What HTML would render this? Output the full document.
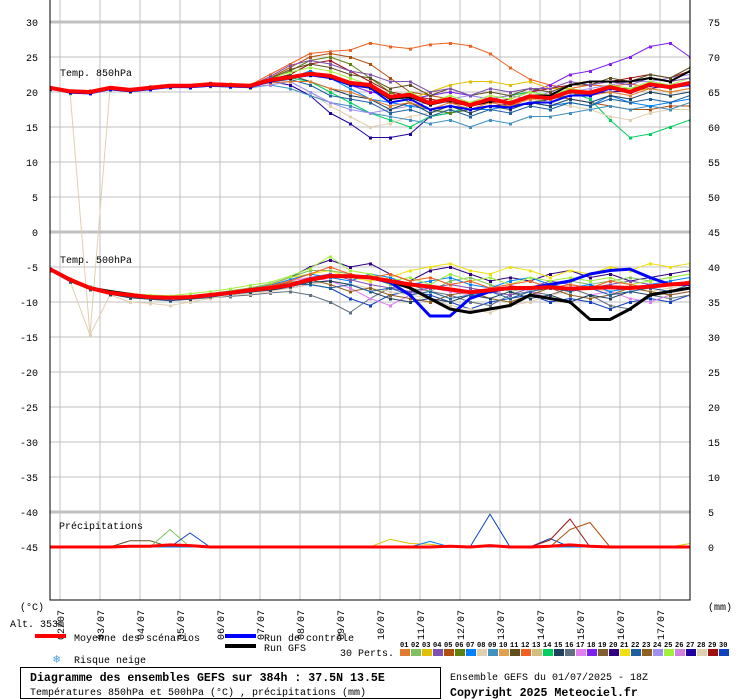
<!DOCTYPE html>
<html><head><meta charset="utf-8"><style>
body{margin:0;background:#fff;}
svg{display:block;font-family:"Liberation Mono",monospace;}
</style></head><body>
<svg id="c" width="740" height="700" xmlns="http://www.w3.org/2000/svg"></svg>
<script>
const dates=["02/07","03/07","04/07","05/07","06/07","07/07","08/07","09/07","10/07","11/07","12/07","13/07","14/07","15/07","16/07","17/07"];
const leftTicks=[30,25,20,15,10,5,0,-5,-10,-15,-20,-25,-30,-35,-40,-45];
const rightTicks=[75,70,65,60,55,50,45,40,35,30,25,20,15,10,5,0];
const memberColors=["#e07b30","#80c060","#e0c000","#8050b0","#b05010","#608010","#0080ff","#e0d0b0","#4090c0","#e0a050","#605020","#f06020","#d0c080","#00d060","#204060","#607080","#e080f0","#8020f0","#806030","#300080","#f0e010","#2060a0","#906020","#a090f0","#a0f040","#d080e0","#2000a0","#e0d0b0","#a01010","#1040c0"];
const mean850=[20.6,20.1,20,20.6,20.3,20.6,20.9,20.9,21.1,21,20.9,21.7,22.1,22.6,22.3,21.3,21,19.3,19.6,18.4,19,18.1,19,18.4,19.4,19.1,20.1,19.9,20.7,20,21.1,20.7,21.3];
const ctrl850=[20.5,19.9,19.8,20.4,20.1,20.4,20.7,20.7,20.9,20.8,20.7,21.5,22,22.4,22,21,20.6,18.5,19,17.5,18,17.5,18,17.8,18.5,18.5,19.5,19.5,20.5,20,21,20.7,21];
const gfs850=[20.6,20.1,20.1,20.6,20.3,20.6,20.9,20.9,21.1,21,20.9,21.7,22,22.5,22.2,21.2,20.8,19,19.3,18.2,18.8,18,18.7,18.5,19.5,19.5,21,21.5,21.5,21.5,22,21.5,23];
const m850a=[20.5,20,20.2,20.6,20.3,20.7,21,21,21.3,21.2,21,22.5,24,25.5,25.8,26,27,26.5,26.2,26.8,27,26.6,25.5,23.5,21.8,21,20.5,21,20.8,21.2,20.5,20.8,21];
const m850b=[20.5,20,20,20.5,20.2,20.4,20.8,20.7,21,20.9,20.8,21.5,21,19.5,17,15.5,13.5,13.5,14,16.5,17,17.5,18,18.3,18.2,19,19.5,19.8,20,20.2,20.5,21,21.2];
const m850c=[20.6,20.1,20,20.6,20.3,20.6,20.9,20.8,21.1,21,20.8,21.5,22,22.5,22,21,20,19.5,19,19.5,20,19.5,19,19.5,20,21,22.5,23,24,25,26.5,27,25];
const m850d=[20.5,20.2,20.1,20.5,20.2,20.5,20.8,20.9,21,21,20.7,21.5,22,21.5,20,18.5,17,16,15,16.5,17,18,19,19.5,20,19.5,20,19,16,13.5,14,15,16];
const m850e=[20.6,20.1,-14.7,20.5,20.4,20.6,20.9,20.8,21,20.9,20.7,21,21.5,20,18,16.5,15,15.5,16.5,17,17.5,18,18.5,18.5,19,18.5,18,17.5,16.5,16,17,17.5,17.5];
const m850f=[20.6,20,20.2,20.6,20.3,20.6,20.9,21,21.2,21,20.9,22,23.5,25,25.5,25,24,22,20,19.5,19,18.5,19,19.5,19,19.5,19,18.5,18,17.5,17.5,18,18];
const m850g=[20.5,20,20.1,20.5,20.3,20.6,20.9,20.8,21,21,20.8,21.5,22,22.5,22.5,21.5,20.5,19.5,19,20,21,21.5,21.5,21,21.5,20.5,20.5,20,20.5,20,20.5,20,20.5];
const m850h=[20.4,20,19.9,20.3,20.1,20.4,20.7,20.6,20.8,20.7,20.6,21,20.5,19.5,18.5,18,17,16.5,16,15.5,16,15,16,15.5,16.5,16.5,17,17.5,18,17.5,18,17.5,18.5];
const m850i=[20.6,20.1,20.1,20.6,20.3,20.6,21,21,21.3,21.1,21,21.8,22.5,24,24.5,23,21.5,20,19.5,19,18.5,18,18.5,19,20,20.5,21,21.5,21.5,22,22.5,22,23];
const m850j=[20.5,20,20.1,20.4,20.2,20.5,20.8,20.7,21,20.9,20.7,21,21.5,20,18.5,17.5,17,17.5,18,18.5,19,19.5,19,19.5,19,20,20,20.5,21,21.5,21.5,22,22.5];
const m850k=[20.5,20.1,20,20.5,20.3,20.5,20.8,20.8,21,20.9,20.8,21.5,22,23,22,20.5,19,18.5,18,17.5,17,17.5,17.5,18,18.5,18,18.5,18,19.5,18.5,18,18.5,19];
const m850l=[20.6,20.1,20.1,20.6,20.3,20.6,20.9,20.9,21.1,21,20.9,21.8,23,24.5,25,24,22,20,18.5,17.5,17,17.5,18,18,18.5,19,19.5,20,20.5,20.5,21,20.5,21];
const m850m=[20.5,19.8,20,20.4,20,20.6,20.6,21,20.8,21.2,20.6,22,22.8,23.5,23,22,21,19,20,18.5,19.5,18.5,19.5,19,20,19.5,20.5,20,21,20.5,21.5,21,22];
const m850n=[20.7,20,20.2,20.7,20.2,20.8,21,20.9,21.2,21.1,20.8,21.6,22.4,21.5,20.5,19.5,19,17.5,18.5,17,18,17,18,17.5,18.5,18,19,18.5,19.5,19,20,19.5,20];
const m850o=[20.4,20.1,19.9,20.5,20.3,20.5,20.8,20.8,20.9,21,20.7,21.9,23.2,24,23.5,22.5,22,20.5,21,19.5,20.5,19.5,20,19.5,20.5,20,21,21,22,21.5,22.5,22,23.5];
const m850p=[20.6,20.2,20.1,20.6,20.4,20.6,20.9,21,21,20.9,20.8,21.4,21.8,21,19.5,19,18.5,17,17.5,16.5,17.5,16.5,17.5,17,18,17.5,18.5,18,19,18.5,19,18.5,19.5];
const m850q=[20.5,20,20,20.6,20.2,20.6,21,20.8,21.1,21.1,20.9,22.2,23.8,24.5,24,23,22.5,21.5,21.5,20,20.5,19.5,20.5,20,20.5,20.5,21.5,21,21.5,21,22,21.5,22];
const m850r=[20.5,20.1,20.1,20.5,20.3,20.7,20.8,20.9,21.1,21,20.8,21.3,21.5,21.5,20.5,20,19,18,18.5,17.5,18.5,17.5,18.5,18,19,19,20,19.5,20,19.5,20.5,20,20.5];
const mean500=[-5.3,-6.8,-8,-8.7,-9,-9.3,-9.4,-9.3,-9,-8.7,-8.3,-8,-7.6,-6.8,-6.3,-6.3,-6.5,-7,-7.5,-7.8,-8.2,-8.6,-8.3,-8,-8,-7.9,-8.1,-8,-7.9,-8,-7.8,-7.5,-7.3];
const ctrl500=[-5.3,-6.8,-8,-8.7,-9,-9.3,-9.4,-9.3,-9,-8.7,-8.3,-8,-7.6,-6.8,-6.3,-6.3,-6.5,-7.2,-9,-12,-12,-9.5,-8.5,-8,-8,-7.5,-7,-6,-5.5,-5.3,-6.5,-7.5,-7.5];
const gfs500=[-5.3,-6.8,-8,-8.5,-8.9,-9.3,-9.4,-9.3,-9,-8.7,-8.3,-8,-7.6,-6.8,-6.3,-6.3,-6.5,-7,-8,-9.5,-11,-11.5,-11,-10.5,-9,-9.5,-10,-12.5,-12.5,-11,-9,-8.5,-8];
const p500a=[-5.5,-7,-8,-8.5,-9,-9.3,-9.5,-9.2,-9,-8.5,-8,-7.5,-6.5,-5,-4,-5,-4.5,-6,-7,-5.5,-5,-6,-7,-6.5,-7,-6,-5.5,-6.5,-6,-7,-6.5,-6,-5.5];
const p500b=[-5.2,-6.8,-8,-8.8,-9.3,-9.5,-9.8,-9.5,-9.3,-9,-8.5,-8.3,-8,-7.5,-8,-9.5,-10.5,-9,-8.5,-9,-10,-11,-10,-9.5,-9,-10,-9.5,-10,-11,-10,-9.5,-10,-9];
const p500c=[-5.4,-7,-8.2,-8.7,-9.2,-9.4,-9.6,-9.4,-9,-8.7,-8,-7.5,-6.5,-6,-5.5,-6.5,-7,-6.5,-5.5,-5,-4.5,-5.5,-6,-5,-5.5,-6.5,-5.5,-6,-5,-5.5,-4.5,-5,-4.5];
const p500d=[-5.3,-6.9,-8.1,-8.6,-9.1,-9.3,-9.7,-9.6,-9.4,-9.2,-9,-8.7,-8.5,-9,-10,-11.5,-9.5,-8,-7.5,-8.5,-9,-10,-10.5,-9,-8.5,-9,-8,-9,-10.5,-11,-9,-9.5,-9];
const p500e=[-5.3,-7,-14.7,-9,-10,-10.2,-10.5,-10,-9.5,-9,-8.8,-8.5,-8,-7.5,-7,-7.5,-8,-8.5,-9,-9.5,-10.5,-11,-11.5,-10.5,-10,-9,-8.5,-8,-8.5,-8,-8.5,-8,-7.5];
const p500f=[-5.3,-6.9,-7.9,-8.5,-9,-9.2,-9.3,-9.1,-8.8,-8.4,-8,-7.4,-6.5,-5.5,-5.5,-6,-6.5,-7.5,-8,-8.5,-7,-6.5,-7.5,-8.5,-8,-7.5,-7,-7.5,-7,-6.5,-7,-6.5,-6];
const p500g=[-5.4,-7,-8,-8.6,-9,-9.4,-9.7,-9.5,-9.1,-8.8,-8.3,-8,-7,-6.5,-7,-8,-9.5,-10.5,-9,-8,-8.5,-9,-8,-7.5,-8.5,-9.5,-10,-9,-8.5,-9.5,-10,-9,-8.5];
const p500h=[-5.2,-6.7,-7.8,-8.5,-8.9,-9.2,-9.4,-9.2,-8.9,-8.5,-8.1,-7.6,-6.8,-6,-6.5,-7,-6,-6.5,-7.5,-7,-6.5,-7.5,-8,-7,-6.5,-7.5,-8,-7.5,-8.5,-8,-7.5,-7,-6.5];
const p500i=[-5.3,-6.9,-8,-8.7,-9.1,-9.4,-9.5,-9.3,-9,-8.6,-8.2,-7.8,-7.2,-6.8,-7.5,-8.5,-8,-9,-9.5,-10,-9,-8.5,-9.5,-10,-9,-8,-9,-9.5,-9,-8,-8.5,-9,-8.5];
const p500j=[-5.4,-7,-8.1,-8.8,-9.2,-9.5,-9.6,-9.4,-9.1,-8.7,-8.4,-7.9,-7.4,-6.5,-6,-6.8,-7.5,-8,-8.5,-8,-7.5,-8,-8.5,-9,-8,-7,-7.5,-8,-7.5,-7,-7.5,-7.5,-7];
const p500k=[-5.2,-6.6,-7.9,-8.4,-8.8,-9,-9.1,-8.8,-8.5,-8.1,-7.6,-7.2,-6.3,-5.2,-3.5,-5.5,-6,-7,-6.5,-7.5,-6,-7,-6.5,-7.5,-6.5,-7,-6.5,-7,-6.5,-7.5,-7,-6.5,-6];
const p500l=[-5.5,-7.1,-8.2,-8.9,-9.4,-9.6,-9.8,-9.6,-9.2,-8.9,-8.6,-8.3,-7.8,-7.2,-7,-7.5,-8.5,-9.5,-10,-9.5,-10,-9,-9.5,-8.5,-9.5,-9,-10,-9,-9.5,-8.5,-9,-8.5,-8];
const p500m=[-5.3,-6.9,-8,-8.6,-9.1,-9.3,-9.5,-9.3,-9,-8.6,-8.1,-7.7,-7,-6,-5,-6,-6.5,-6,-7,-6.5,-7.5,-7,-8,-7.5,-7,-8,-7.5,-8,-7,-7.5,-8,-7.5,-7];
const p500n=[-5.4,-6.9,-8.1,-8.7,-9.1,-9.4,-9.6,-9.4,-9.1,-8.8,-8.4,-8.1,-7.5,-7.5,-8,-7.5,-8.5,-8,-9,-8.5,-9.5,-9,-8.5,-9.5,-8.5,-8,-8.5,-8,-9,-8.5,-8,-8.5,-7.5];
const prA=[0,0,0,0,0.9,0.9,0,0,0,0,0,0,0,0,0,0,0,0,0,0,0,0,0,0,0,0,0,0,0,0,0,0,0];
const prB=[0,0,0,0,0,0,2.5,0,0,0,0,0,0,0,0,0,0,0,0,0,0,0,0,0,0,0,0,0,0,0,0,0,0];
const prC=[0,0,0,0,0,0,0,2,0,0,0,0,0,0,0,0,0,0,0,0,0,0,4.7,0,0,1.2,0,0,0,0,0,0,0];
const prD=[0,0,0,0,0,0,0,0,0,0,0,0,0,0,0,0,0,0,0,0,0,0,0,0,0,1,4,0,0,0,0,0,0];
const prE=[0,0,0,0,0,0,0,0,0,0,0,0,0,0,0,0,0,0,0,0,0,0,0,0,0,0,2.5,3.5,0,0,0,0,0];
const prF=[0,0,0,0,0,0,0,0,0,0,0,0,0,0,0,0,0,1.1,0.5,0.4,0,0,0,0,0,0,0,0,0,0,0,0,0.5];
const prG=[0,0,0,0,0,0,0,0,0,0,0,0,0,0,0,0,0,0,0,0.8,0,0,0,0,0,0,0,0,0,0,0,0,0];
const prMean=[0,0,0,0,0.1,0.1,0.3,0.2,0,0,0,0,0,0,0,0,0,0,0,0,0.1,0,0.2,0,0,0.1,0.3,0.1,0,0,0,0,0];

const S=document.getElementById('c');const NS="http://www.w3.org/2000/svg";
function el(t,a,p){const e=document.createElementNS(NS,t);for(const k in a)e.setAttribute(k,a[k]);(p||S).appendChild(e);return e;}
const X0=50,X1=690,Y0=0,Y1=600;
function xS(i){return X0+i*(X1-X0)/32;}
function yT(v){return 232-v*7;}
function yP(v){return 547-v*7;}
const grid=el('g',{});
dates.forEach((d,k)=>{const x=60+k*40;el('line',{x1:x,y1:Y0,x2:x,y2:Y1,stroke:'#c0c0c0','stroke-width':1},grid);});
leftTicks.forEach(v=>{const y=yT(v);const thick=(v===30||v===0||v===-40);el('line',{x1:X0,y1:y,x2:X1,y2:y,stroke:'#c0c0c0','stroke-width':thick?3:1},grid);});
leftTicks.forEach(v=>{const t=el('text',{x:38,y:yT(v)+4,'text-anchor':'end','font-size':10});t.textContent=v;});
rightTicks.forEach((v,i)=>{const t=el('text',{x:708,y:yT(leftTicks[i])+4,'font-size':10});t.textContent=v;});
dates.forEach((d,k)=>{const x=60+k*40+4;const t=el('text',{x:0,y:0,'font-size':10,transform:`translate(${x},640) rotate(-90)`});t.textContent=d;});
const clip=el('clipPath',{id:'cp'});el('rect',{x:X0,y:Y0,width:X1-X0,height:Y1-Y0},clip);
const plot=el('g',{'clip-path':'url(#cp)'});
function line(arr,yf,col,w,name,dots){const pts=arr.map((v,i)=>xS(i).toFixed(1)+','+yf(v).toFixed(1)).join(' ');const p=el('polyline',{points:pts,fill:'none',stroke:col,'stroke-width':w,'stroke-linejoin':'round'},plot);
 if(dots){arr.forEach((v,i)=>{el('rect',{x:xS(i)-1,y:yf(v)-1,width:3,height:3,fill:col},plot);});}return p;}
const m850=[m850a,m850b,m850c,m850d,m850e,m850f,m850g,m850h,m850i,m850j,m850k,m850l,m850m,m850n,m850o,m850p,m850q,m850r];
const m500=[p500a,p500b,p500c,p500d,p500e,p500f,p500g,p500h,p500i,p500j,p500k,p500l,p500m,p500n];
const cols850=[11,26,17,13,7,4,2,8,28,23,6,5,24,14,10,21,3,0];
const cols500=[19,29,20,15,7,1,16,6,22,3,24,14,11,21];
m850.forEach((a,i)=>line(a,yT,memberColors[cols850[i]],1,'member-850-line',true));
m500.forEach((a,i)=>line(a,yT,memberColors[cols500[i]],1,'member-500-line',true));
[[prA,10],[prB,1],[prC,29],[prD,28],[prE,4],[prF,2],[prG,6]].forEach(([a,c])=>line(a,yP,memberColors[c],1,'member-precip-line',false));
line(ctrl850,yT,'#0000ff',2,'control-850-line',true);line(gfs850,yT,'#000000',2,'gfs-850-line',true);
line(ctrl500,yT,'#0000ff',3,'control-500-line',false);line(gfs500,yT,'#000000',3,'gfs-500-line',false);
line(mean850,yT,'#ff0000',4,'mean-850-line',false);line(mean500,yT,'#ff0000',4,'mean-500-line',false);line(prMean,yP,'#ff0000',3,'mean-precip-line',false);
el('rect',{x:X0,y:Y0-1,width:X1-X0,height:Y1-Y0+1,fill:'none',stroke:'#000','stroke-width':1});
function txt(s,x,y,sz,name,extra){const t=el('text',Object.assign({x:x,y:y,'font-size':sz},extra||{}));t.textContent=s;return t;}
txt('Temp. 850hPa',60,76,10,'panel-label-850');
txt('Temp. 500hPa',60,263,10,'panel-label-500');
txt('Précipitations',59,529,10,'panel-label-precip');
txt('(°C)',20,610,10,'left-unit');txt('(mm)',708,610,10,'right-unit');
txt('Alt. 353m',10,627,10,'altitude-label');
el('rect',{x:35,y:634,width:31,height:4,fill:'#ff0000'});txt('Moyenne des scénarios',74,641,10,'legend-mean');
el('rect',{x:225,y:634,width:31,height:4,fill:'#0000ff'});txt('Run de contrôle',264,641,10,'legend-control');
el('rect',{x:225,y:644,width:31,height:4,fill:'#000'});txt('Run GFS',264,651,10,'legend-gfs');
txt('❄',53,663,12,'snow-icon',{fill:'#4aa0e0'});txt('Risque neige',74,663,10,'legend-snow');
txt('30 Perts.',340,656,10,'legend-perts');
memberColors.forEach((c,i)=>{const x=400+i*11;txt(String(i+1).padStart(2,'0'),x,647,7,'member-number',{'font-weight':'bold'});const r=el('rect',{x:x,y:649,width:10,height:7,fill:c});});
const box=el('rect',{x:20.5,y:667.5,width:420,height:31,fill:'none',stroke:'#000'});
txt('Diagramme des ensembles GEFS sur 384h : 37.5N 13.5E',30,681,11.6,'chart-title',{'font-weight':'bold'});
txt('Températures 850hPa et 500hPa (°C) , précipitations (mm)',30,695,10,'chart-subtitle');
txt('Ensemble GEFS du 01/07/2025 - 18Z',450,680,10,'run-info');
txt('Copyright 2025 Meteociel.fr',450,696,11.6,'copyright',{'font-weight':'bold'});
</script>
</body></html>
